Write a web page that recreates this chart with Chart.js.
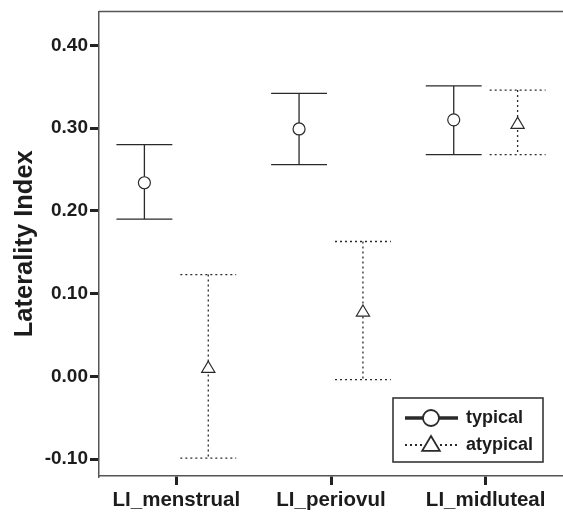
<!DOCTYPE html>
<html lang="en">
<head>
    <meta charset="UTF-8">
    <title>Laterality Index</title>
    <script src="https://cdn.jsdelivr.net/npm/chart.js"></script>
    <style>
        body {
            margin: 0;
            background: #fff;
        }
        #wrap {
            width: 563px;
            height: 513px;
        }
    </style>
</head>
<body>
    <div id="wrap"><canvas id="myChart"></canvas></div>
    <script>
        // values
        const categories = ['LI_menstrual', 'LI_periovul', 'LI_midluteal'];
        const typicalMean = [0.234, 0.299, 0.310];
        const typicalLow = [0.190, 0.256, 0.268];
        const typicalHigh = [0.280, 0.342, 0.351];
        const atypicalMean = [0.011, 0.079, 0.306];
        const atypicalLow = [-0.099, -0.004, 0.268];
        const atypicalHigh = [0.123, 0.163, 0.346];
        const yTicks = [-0.1, 0, 0.1, 0.2, 0.3, 0.4];

        const seriesList = [
            { label: 'typical', mean: typicalMean, low: typicalLow, high: typicalHigh, dash: [], marker: 'circle' },
            { label: 'atypical', mean: atypicalMean, low: atypicalLow, high: atypicalHigh, dash: [2, 3], marker: 'triangle' }
        ];

        const ink = '#2a2a2a';
        const textInk = '#1c1c1c';
        const font = "'Liberation Sans', Arial, sans-serif";

        function drawMarker(ctx, type, x, y, size) {
            ctx.save();
            ctx.setLineDash([]);
            ctx.lineWidth = size > 6 ? 1.8 : 1.2;
            ctx.strokeStyle = ink;
            ctx.fillStyle = '#fff';
            ctx.beginPath();
            if (type === 'circle') {
                ctx.arc(x, y, size, 0, Math.PI * 2);
            } else {
                ctx.moveTo(x, y - size);
                ctx.lineTo(x + size * 1.1, y + size * 0.85);
                ctx.lineTo(x - size * 1.1, y + size * 0.85);
                ctx.closePath();
            }
            ctx.fill();
            ctx.stroke();
            ctx.restore();
        }

        const errorBars = {
            id: 'errorBars',
            afterDatasetsDraw(chart) {
                const ctx = chart.ctx;
                const yScale = chart.scales.y;
                const area = chart.chartArea;

                // frame line along the top
                ctx.save();
                ctx.strokeStyle = '#555';
                ctx.lineWidth = 1.5;
                ctx.beginPath();
                ctx.moveTo(area.left, area.top);
                ctx.lineTo(area.right, area.top);
                ctx.stroke();
                ctx.restore();

                seriesList.forEach((s, d) => {
                    const meta = chart.getDatasetMeta(d);
                    meta.data.forEach((bar, i) => {
                        const x = bar.x;
                        const half = bar.width / 2;
                        const yHi = yScale.getPixelForValue(s.high[i]);
                        const yLo = yScale.getPixelForValue(s.low[i]);
                        const yMid = yScale.getPixelForValue(s.mean[i]);
                        ctx.save();
                        ctx.strokeStyle = ink;
                        ctx.lineWidth = 1.3;
                        ctx.setLineDash(s.dash);
                        ctx.beginPath();
                        ctx.moveTo(x, yHi);
                        ctx.lineTo(x, yLo);
                        ctx.moveTo(x - half, yHi);
                        ctx.lineTo(x + half, yHi);
                        ctx.moveTo(x - half, yLo);
                        ctx.lineTo(x + half, yLo);
                        ctx.stroke();
                        ctx.restore();
                        drawMarker(ctx, s.marker, x, yMid, 6);
                    });
                });

                // legend box
                const bx = 393, by = 398, bw = 150, bh = 64;
                ctx.save();
                ctx.strokeStyle = ink;
                ctx.lineWidth = 1.5;
                ctx.strokeRect(bx, by, bw, bh);
                ctx.font = 'bold 18px ' + font;
                ctx.fillStyle = textInk;
                ctx.textBaseline = 'middle';
                seriesList.forEach((s, k) => {
                    const ly = by + 20 + k * 27;
                    ctx.save();
                    ctx.strokeStyle = ink;
                    ctx.lineWidth = k === 0 ? 3.5 : 2;
                    ctx.setLineDash(k === 0 ? [] : [2, 3]);
                    ctx.beginPath();
                    ctx.moveTo(bx + 12, ly);
                    ctx.lineTo(bx + 65, ly);
                    ctx.stroke();
                    ctx.restore();
                    drawMarker(ctx, s.marker, bx + 38, k === 0 ? ly : ly - 1, 8);
                    ctx.fillText(s.label, bx + 73, ly);
                });
                ctx.restore();
            }
        };

        const ctx = document.getElementById('myChart').getContext('2d');
        new Chart(ctx, {
            type: 'bar',
            data: {
                labels: categories,
                datasets: seriesList.map(s => ({
                    label: s.label,
                    data: s.low.map((v, i) => [v, s.high[i]]),
                    backgroundColor: 'rgba(0,0,0,0)',
                    borderWidth: 0,
                    categoryPercentage: 0.826,
                    barPercentage: 0.875
                }))
            },
            options: {
                responsive: true,
                maintainAspectRatio: false,
                animation: false,
                layout: { padding: { top: 11, right: 0, left: 0, bottom: 0 } },
                plugins: {
                    legend: { display: false },
                    tooltip: { enabled: false }
                },
                scales: {
                    x: {
                        grid: {
                            offset: false,
                            drawOnChartArea: false,
                            drawTicks: true,
                            tickLength: 9,
                            lineWidth: 3,
                            color: '#222'
                        },
                        border: { display: true, color: '#555', width: 1.5 },
                        ticks: {
                            color: textInk,
                            padding: 3,
                            font: { family: font, size: 20.5, weight: 'bold' }
                        },
                        afterFit(scale) { scale.height = 37; }
                    },
                    y: {
                        min: -0.1205,
                        max: 0.441,
                        afterBuildTicks(scale) {
                            scale.ticks = yTicks.map(v => ({ value: v }));
                        },
                        grid: {
                            drawOnChartArea: false,
                            drawTicks: true,
                            tickLength: 9,
                            lineWidth: 3,
                            color: '#222'
                        },
                        border: { display: true, color: '#555', width: 1.5 },
                        ticks: {
                            color: textInk,
                            padding: 2,
                            font: { family: font, size: 19, weight: 'bold', lineHeight: 1 },
                            callback: v => v.toFixed(2)
                        },
                        title: {
                            display: true,
                            text: 'Laterality Index',
                            color: textInk,
                            padding: { top: 10, bottom: 0 },
                            font: { family: font, size: 25.5, weight: 'bold' }
                        },
                        afterFit(scale) { scale.width = 99; }
                    }
                }
            },
            plugins: [errorBars]
        });
    </script>
</body>
</html>
